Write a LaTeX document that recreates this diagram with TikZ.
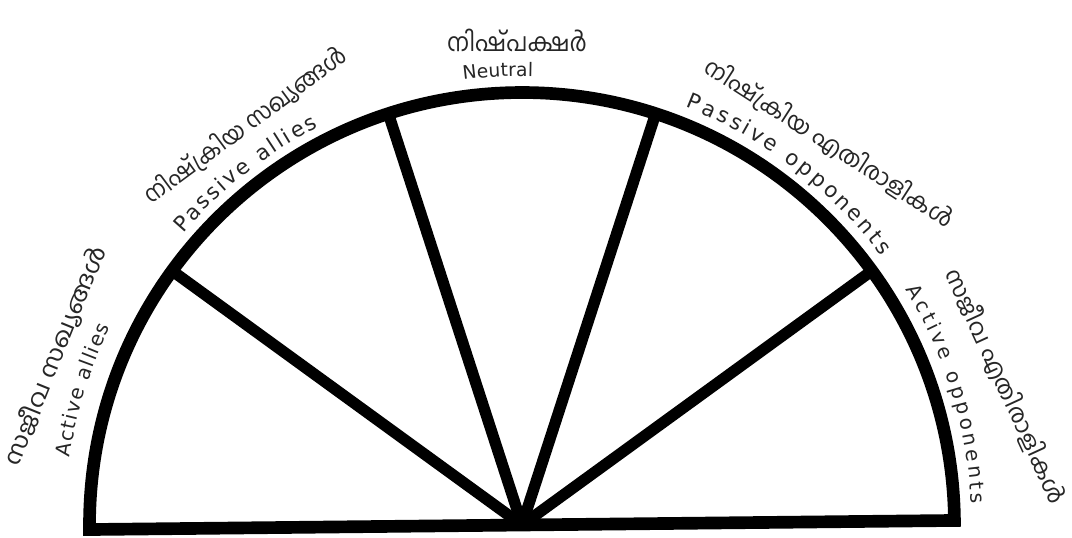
\documentclass[tikz,border=0pt]{standalone}
\usepackage{fontspec}
\usetikzlibrary{calc,decorations.text}
\setmainfont{DejaVu Sans}
\newfontfamily\mlfont[Script=Malayalam]{Hind Kochi}
\newcommand\enf{\fontsize{14}{16}\selectfont}
\newcommand\enfm{\fontsize{15}{17}\selectfont}
\newcommand\enfl{\fontsize{16}{18}\selectfont}
\begin{document}
\begin{tikzpicture}[x=0.75pt,y=0.75pt,
  frame/.style={line width=9.5pt,line join=miter,line cap=butt,draw=black},
  spoke/.style={line width=8.5pt,line cap=butt,draw=black},
  ml/.style={text=black!85,font=\mlfont\fontsize{16}{18}\selectfont,inner sep=0pt},
  arctext/.style={decorate,decoration={text along path,text color=black!85,
     text align={fit to path},text={#1}}}]
\enf
\useasboundingbox (0,0) rectangle (1072,537);
\fill[white] (0,0) rectangle (1072,537);
\coordinate (C) at (522,12);
\coordinate (L) at ($(C)+(180.6:432.5)$);
\coordinate (s1) at ($(C)+(144:432.5)$);
\coordinate (s2) at ($(C)+(108:432.5)$);
\coordinate (s3) at ($(C)+(72:432.5)$);
\coordinate (s4) at ($(C)+(36:432.5)$);
\draw[frame] (L) arc[start angle=180.6,end angle=0.6,radius=432.5] -- cycle;
\foreach \s in {s1,s2,s3,s4} \draw[spoke] (C) -- (\s);
% English labels along the arc
\path[arctext={|\enfm|Active allies}] ($(C)+(171.5:457)$) arc[start angle=171.5,end angle=154.3,radius=457];
\path[arctext={|\enfl|Passive allies}] ($(C)+(139.3:447)$) arc[start angle=139.3,end angle=117.1,radius=447];
\path[arctext={|\enf|Neutral}] ($(C)+(97.5:449)$) arc[start angle=97.5,end angle=88.6,radius=449];
\path[arctext={|\enfl|Passive opponents}] ($(C)+(68.6:449)$) arc[start angle=68.6,end angle=36.8,radius=449];
\path[arctext={|\enfm|Active opponents}] ($(C)+(31.5:450)$) arc[start angle=31.5,end angle=2.7,radius=450];
% Malayalam labels
\node[ml,rotate=68] (aaml) at (55,181.6) {\resizebox*{175.5pt}{19pt}{സജീവ സഖ്യങ്ങൾ}};
\node[ml,rotate=36.5] (paml) at (245.3,411.6) {\resizebox*{183.75pt}{19pt}{നിഷ്ക്രിയ സഖ്യങ്ങൾ}};
\node[ml] (numl) at (517,497) {\resizebox*{105pt}{17pt}{നിഷ്പക്ഷർ}};
\node[ml,rotate=-32.8] (poml) at (829,393.9) {\resizebox*{217.5pt}{19pt}{നിഷ്ക്രിയ എതിരാളികൾ}};
\node[ml,rotate=-65.3] (aoml) at (1005.5,150.5) {\resizebox*{192pt}{19pt}{സജീവ എതിരാളികൾ}};
\end{tikzpicture}
\end{document}
